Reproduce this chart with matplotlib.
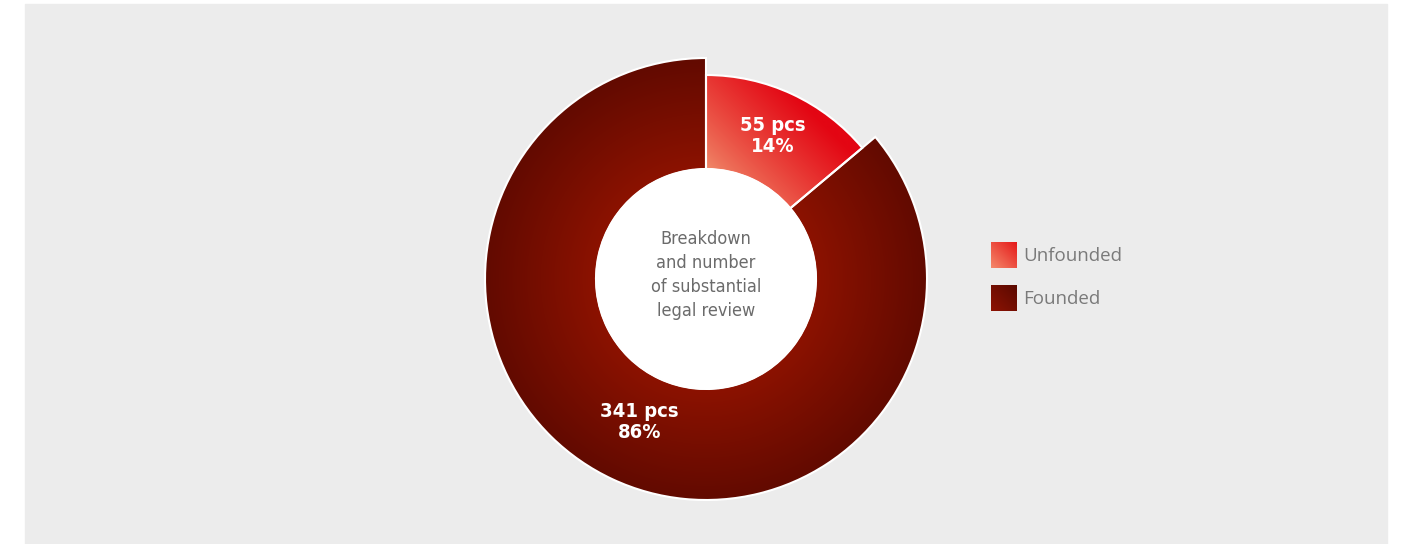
import matplotlib.pyplot as plt
import matplotlib.patches as mpatches
import numpy as np

# Data
labels = ['Unfounded', 'Founded']
counts = [55, 341]
percents = ['14%', '86%']

W, H = 1401, 544
cx, cy = 706, H - 279
r_outer = [204, 221]
r_inner = 110

plt.rcParams['font.family'] = ['DejaVu Sans']

fig = plt.figure(figsize=(W / 100, H / 100), dpi=100)
ax = fig.add_axes([0, 0, 1, 1])
ax.set_xlim(0, W)
ax.set_ylim(0, H)
ax.set_aspect('equal')
ax.axis('off')

# grey panel
ax.add_patch(mpatches.Rectangle((25, 0), 1362, H - 4, color='#ececec', zorder=0))


def hex2rgb(h):
    h = h.lstrip('#')
    return np.array([int(h[i:i + 2], 16) / 255 for i in (0, 2, 4)])


def blend(c0, c1, t):
    t = np.clip(t, 0, 1)[..., None]
    return hex2rgb(c0) * (1 - t) + hex2rgb(c1) * t


xs = np.arange(cx - 230, cx + 230)
ys = np.arange(cy - 230, cy + 230)
X, Y = np.meshgrid(xs, ys)
R = np.hypot(X - cx, Y - cy)
ext = (xs[0], xs[-1], ys[0], ys[-1])

# radial gradient for founded
t_rad = (R - r_inner) / (r_outer[1] - r_inner)
img_founded = blend('#8c1200', '#620a00', t_rad)

# linear gradient for unfounded
ax_, ay_ = 715, H - 175
bx_, by_ = 795, H - 95
d = np.array([bx_ - ax_, by_ - ay_])
t_lin = np.clip(((X - ax_) * d[0] + (Y - ay_) * d[1]) / (d @ d), 0, 1) ** 0.8
img_unfounded = blend('#f08a6a', '#e30613', t_lin)

total = sum(counts)
start = 90.0
label_r = 158
cfont = dict(family='DejaVu Sans', stretch='condensed')
for i, (lab, n) in enumerate(zip(labels, counts)):
    span = n / total * 360
    th1, th2 = start - span, start
    wedge = mpatches.Wedge((cx, cy), r_outer[i], th1, th2, width=r_outer[i] - r_inner,
                           facecolor='none', edgecolor='white', linewidth=1.5, zorder=3)
    ax.add_patch(wedge)
    img = img_unfounded if i == 0 else img_founded
    im = ax.imshow(img, extent=ext, origin='lower', zorder=2, interpolation='bilinear')
    im.set_clip_path(wedge)
    mid = np.radians((th1 + th2) / 2)
    ax.text(cx + label_r * np.cos(mid), cy + label_r * np.sin(mid),
            f'{n} pcs\n{percents[i]}', color='white', fontsize=14.5, fontweight='bold',
            ha='center', va='center', linespacing=1.15, zorder=4, **cfont)
    start = th1

ax.add_patch(mpatches.Circle((cx, cy), r_inner, color='white', zorder=3))
ax.text(cx, H - 275, 'Breakdown\nand number\nof substantial\nlegal review',
        color='#6b6b6b', fontsize=13, ha='center', va='center', linespacing=1.42, zorder=4, **cfont)

# legend
leg_cols = [('#f4876a', '#e51a1a'), ('#8c1304', '#5a0900')]
sq = np.linspace(0, 1, 26)
SX, SY = np.meshgrid(sq, sq)
for i, lab in enumerate(labels):
    y0 = H - 268 - i * 43
    g = blend(leg_cols[i][0], leg_cols[i][1], (SX + SY) / 2)
    ax.imshow(g, extent=(991, 1017, y0, y0 + 26), origin='lower', zorder=2)
    ax.text(1023, y0 + 12, lab, color='#7a7a7a', fontsize=13.5, family=['Open Sans', 'DejaVu Sans'],
            ha='left', va='center', zorder=4)

ax.set_xlim(0, W)
ax.set_ylim(0, H)
fig.savefig('out.png', dpi=100, facecolor='white')
